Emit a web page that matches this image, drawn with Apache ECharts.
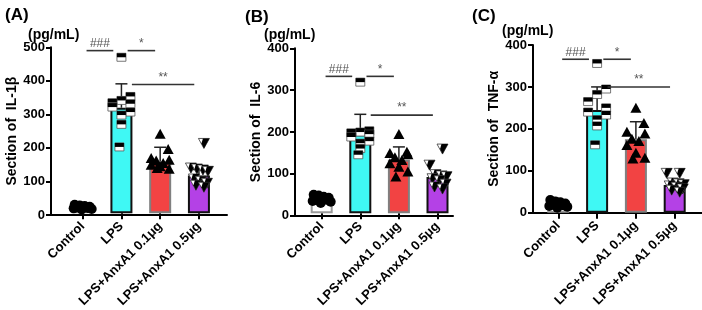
<!DOCTYPE html>
<html><head><meta charset="utf-8">
<script src="https://cdn.jsdelivr.net/npm/echarts@6/dist/echarts.min.js"></script>
<style>html,body{margin:0;padding:0;background:#fff}#c{width:702px;height:310px}</style>
</head><body><div id="c"></div>
<script>
const categories = ['Control', 'LPS', 'LPS+AnxA1 0.1μg', 'LPS+AnxA1 0.5μg'];
const panelLabels = ['(A)', '(B)', '(C)'];
const yNames = ['Section of  IL-1β', 'Section of  IL-6', 'Section of  TNF-α'];
const unitLabel = '(pg/mL)';
const yMax = [500, 400, 400];
const yInterval = 100;

// Panel A (IL-1β)
const ctrlA = [26, 24, 22, 20, 18, 17, 16, 15, 13, 12];
const lpsA  = [470, 352, 340, 333, 330, 320, 305, 296, 268, 200];
const lo1A  = [238, 192, 165, 160, 158, 150, 145, 140, 133, 135];
const lo5A  = [212, 138, 135, 132, 128, 105, 98, 92, 86, 80];
const meanA = [18, 318, 156, 114];
const sdA   = [4, 72, 43, 18];
const sigA  = [[0, 1, 490, '###'], [1, 2, 490, '*'], [1, 3, 388, '**']];

// Panel B (IL-6)
const ctrlB = [45, 43, 40, 38, 36, 35, 33, 30, 28, 25];
const lpsB  = [318, 200, 197, 195, 192, 185, 175, 170, 157, 142];
const lo1B  = [191, 148, 145, 142, 135, 128, 120, 112, 100, 88];
const lo5B  = [157, 118, 95, 92, 90, 85, 80, 72, 65, 60];
const meanB = [35, 192, 130, 88];
const sdB   = [5, 48, 31, 10];
const sigB  = [[0, 1, 332, '###'], [1, 2, 332, '*'], [1, 3, 238, '**']];

// Panel C (TNF-α)
const ctrlC = [30, 27, 25, 22, 20, 20, 18, 16, 14, 12];
const lpsC  = [356, 295, 282, 265, 250, 240, 233, 222, 207, 162];
const lo1C  = [249, 213, 192, 188, 175, 170, 160, 142, 130, 128];
const lo5C  = [95, 95, 72, 70, 68, 65, 62, 58, 55, 50];
const meanC = [20, 245, 175, 66];
const sdC   = [3, 55, 42, 8];
const sigC  = [[0, 1, 366, '###'], [1, 2, 366, '*'], [1, 3, 300, '**']];

const panels = [
  {points: [ctrlA, lpsA, lo1A, lo5A], mean: meanA, sd: sdA, sig: sigA},
  {points: [ctrlB, lpsB, lo1B, lo5B], mean: meanB, sd: sdB, sig: sigB},
  {points: [ctrlC, lpsC, lo1C, lo5C], mean: meanC, sd: sdC, sig: sigC}
];

// ---- layout / style (not data) ----
const layout = [
  {outerL: 51, outerW: 176, innerL: 63.3, innerW: 155, top: 47.3, h: 167.7, titleX: 0, titleY: 2, unitX: 23, unitY: 23, nameGap: 31},
  {outerL: 295, outerW: 158, innerL: 302.4, innerW: 154.4, top: 48.3, h: 167.4, titleX: 240, titleY: 4, unitX: 259, unitY: 23, nameGap: 31},
  {outerL: 533, outerW: 169, innerL: 538.9, innerW: 155.2, top: 45, h: 167.7, titleX: 467, titleY: 3, unitX: 497, unitY: 19, nameGap: 31}
];
const barColors = ['#ffffff', '#3ff8f4', '#f24343', '#b441e6'];
const barBorders = ['#9a9a9a', '#111111', '#808080', '#111111'];
const bracketInset = [[0.1, 0.21], [0.16, 0.13], [0.27, 0.12]];
const jitter = [
  [-8, -3, 2, 7, -6, 0, 5, -9, 9, -1],
  [0, 9, 0, -9, 9, -9, 9, 0, 0, -2],
  [0, 8, -9, 9, -4, 3, -9, 0, 9, -3],
  [5, -8, -2, 4, 9, -5, 2, 8, -3, 5]
];
const FONT = '"Liberation Sans", Arial, sans-serif';

const grid = [], xAxis = [], yAxis = [], series = [], title = [];

panels.forEach((P, p) => {
  const L = layout[p];
  grid.push({left: L.outerL, width: L.outerW, top: L.top, height: L.h});
  grid.push({left: L.innerL, width: L.innerW, top: L.top, height: L.h});
  const go = 2 * p, gi = 2 * p + 1;
  xAxis.push({gridIndex: go, type: 'value', min: 0, max: 1, axisLine: {show: true, onZero: false, lineStyle: {color: '#000', width: 2}},
    axisTick: {show: false}, axisLabel: {show: false}, splitLine: {show: false}});
  xAxis.push({gridIndex: gi, type: 'category', data: categories,
    axisLine: {show: false}, axisTick: {show: true, alignWithLabel: true, length: 6, lineStyle: {color: '#000', width: 2}},
    axisLabel: {rotate: 45, interval: 0, margin: 11, color: '#000', fontWeight: 'bold', fontSize: 13, fontFamily: FONT},
    splitLine: {show: false}});
  yAxis.push({gridIndex: go, type: 'value', min: 0, max: yMax[p], interval: yInterval,
    name: yNames[p], nameLocation: 'middle', nameGap: L.nameGap,
    nameTextStyle: {color: '#000', fontWeight: 'bold', fontSize: 14, fontFamily: FONT},
    axisLine: {show: true, onZero: false, lineStyle: {color: '#000', width: 2}},
    axisTick: {show: true, length: 5, lineStyle: {color: '#000', width: 2}},
    axisLabel: {color: '#000', fontWeight: 'bold', fontSize: 13, margin: 6, fontFamily: FONT},
    splitLine: {show: false}});
  yAxis.push({gridIndex: gi, type: 'value', min: 0, max: yMax[p], interval: yInterval, show: false, splitLine: {show: false}});

  title.push({text: panelLabels[p], left: L.titleX, top: L.titleY, textStyle: {fontSize: 17, fontWeight: 'bold', color: '#000', fontFamily: FONT}});
  title.push({text: unitLabel, left: L.unitX, top: L.unitY, textStyle: {fontSize: 14, fontWeight: 'bold', color: '#000', fontFamily: FONT}});

  // bars
  series.push({type: 'bar', xAxisIndex: gi, yAxisIndex: gi, barWidth: 22, z: 2,
    data: P.mean.map((v, i) => ({value: v, itemStyle: {color: barColors[i], borderColor: barBorders[i], borderWidth: 2}})),
    silent: true});

  // error bars (upper)
  series.push({type: 'custom', xAxisIndex: gi, yAxisIndex: gi, z: 3,
    data: P.mean.map((m, i) => [i, m, P.sd[i]]),
    renderItem: function (params, api) {
      const i = api.value(0), m = api.value(1), s = api.value(2);
      const a = api.coord([i, m]), b = api.coord([i, m + s]);
      return {type: 'group', children: [
        {type: 'line', shape: {x1: a[0], y1: a[1], x2: b[0], y2: b[1]}, style: {stroke: '#222', lineWidth: 1.5}},
        {type: 'line', shape: {x1: b[0] - 6, y1: b[1], x2: b[0] + 6, y2: b[1]}, style: {stroke: '#222', lineWidth: 1.5}}
      ]};
    }});

  // points
  const pts = [];
  P.points.forEach((arr, i) => arr.forEach((v, k) => pts.push([i, v, k])));
  series.push({type: 'custom', xAxisIndex: gi, yAxisIndex: gi, z: 4, data: pts,
    renderItem: function (params, api) {
      const i = api.value(0), v = api.value(1), k = api.value(2);
      const c = api.coord([i, v]);
      const x = c[0] + jitter[i][k], y = c[1];
      if (i === 0) {
        return {type: 'circle', shape: {cx: x, cy: y, r: 5}, style: {fill: '#000'}};
      } else if (i === 1) {
        return {type: 'group', children: [
          {type: 'rect', shape: {x: x - 4.5, y: y - 4, width: 9, height: 8}, style: {fill: '#fff', stroke: '#555', lineWidth: 0.8}},
          {type: 'rect', shape: {x: x - 4.5, y: y - 4, width: 9, height: 4}, style: {fill: '#000'}}
        ]};
      } else if (i === 2) {
        return {type: 'polygon', shape: {points: [[x, y - 5.5], [x - 5.5, y + 4.5], [x + 5.5, y + 4.5]]}, style: {fill: '#000'}};
      } else {
        return {type: 'group', children: [
          {type: 'polygon', shape: {points: [[x - 5.5, y - 4.5], [x + 5.5, y - 4.5], [x, y + 5.5]]}, style: {fill: '#fff', stroke: '#333', lineWidth: 0.8}},
          {type: 'polygon', shape: {points: [[x - 1, y - 4.5], [x + 5.5, y - 4.5], [x, y + 5.5], [x - 2.5, y + 0.5]]}, style: {fill: '#000'}}
        ]};
      }
    }});

  // significance brackets
  series.push({type: 'custom', xAxisIndex: gi, yAxisIndex: gi, z: 5,
    data: P.sig.map(s => [s[0], s[1], s[2]]),
    renderItem: function (params, api) {
      const i = api.value(0), j = api.value(1), yv = api.value(2);
      const bw = api.size([1, 0])[0];
      const a = api.coord([i, yv]), b = api.coord([j, yv]);
      const ins = bracketInset[params.dataIndex];
      const x1 = a[0] + ins[0] * bw, x2 = b[0] - ins[1] * bw;
      const label = P.sig[params.dataIndex][3];
      return {type: 'group', children: [
        {type: 'line', shape: {x1: x1, y1: a[1], x2: x2, y2: a[1]}, style: {stroke: '#333', lineWidth: 1.6}},
        {type: 'text', style: {text: label, x: (x1 + x2) / 2, y: a[1] - 1, align: 'center', verticalAlign: 'bottom',
          fill: '#555', font: '12px ' + FONT}}
      ]};
    }});
});

const chart = echarts.init(document.getElementById('c'), null, {renderer: 'canvas'});
chart.setOption({animation: false, backgroundColor: '#fff', title, grid, xAxis, yAxis, series});
</script></body></html>
